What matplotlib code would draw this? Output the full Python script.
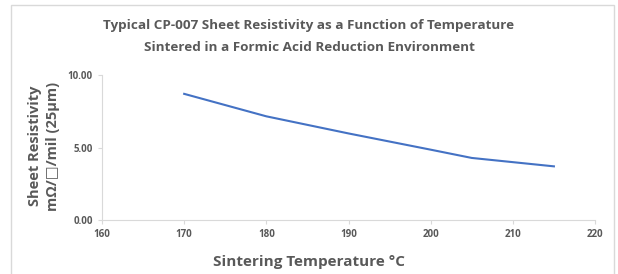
import matplotlib.pyplot as plt
from matplotlib.patches import Rectangle

temps = [170, 180, 190, 200, 205, 215]
resistivity = [8.70, 7.15, 5.97, 4.85, 4.28, 3.70]

grey = "#595959"
plt.rcParams["font.family"] = ["Open Sans", "DejaVu Sans"]

fig = plt.figure(figsize=(6.18, 2.74), dpi=100)
fig.patches.append(Rectangle((11/618, -0.05), 603/618, 1 - 5/274 + 0.05,
                             transform=fig.transFigure, fill=False,
                             edgecolor="#D9D9D9", lw=1))

ax = fig.add_axes([102/618, 1 - 220/274, 493/618, 145/274])
ax.plot(temps, resistivity, color="#4472C4", lw=1.5)
ax.set_xlim(160, 220)
ax.set_ylim(0, 10)
ax.set_xticks(range(160, 221, 10))
ax.set_yticks([0, 5, 10])
ax.set_yticklabels(["0.00", "5.00", "10.00"])
for s in ["top", "right"]:
    ax.spines[s].set_visible(False)
for s in ["left", "bottom"]:
    ax.spines[s].set_color("#D9D9D9")
ax.tick_params(colors="#D9D9D9", labelcolor=grey, labelsize=7, length=3, width=0.8)
for lbl in ax.get_xticklabels() + ax.get_yticklabels():
    lbl.set_fontweight("bold")

fig.text(0.5, 1 - 25/274, "Typical CP-007 Sheet Resistivity as a Function of Temperature",
         ha="center", va="center", fontsize=9.7, fontweight="bold", color=grey)
fig.text(0.5, 1 - 47/274, "Sintered in a Formic Acid Reduction Environment",
         ha="center", va="center", fontsize=9.7, fontweight="bold", color=grey)
fig.text(0.5, 1 - 262/274, "Sintering Temperature °C",
         ha="center", va="center", fontsize=11, fontweight="bold", color=grey)
fig.text(44/618, 1 - 146/274, "Sheet Resistivity\nmΩ/□/mil (25µm)",
         ha="center", va="center", rotation=90, fontsize=10.5, fontweight="bold",
         color=grey, linespacing=1.35)

fig.savefig("out.png", dpi=100)
